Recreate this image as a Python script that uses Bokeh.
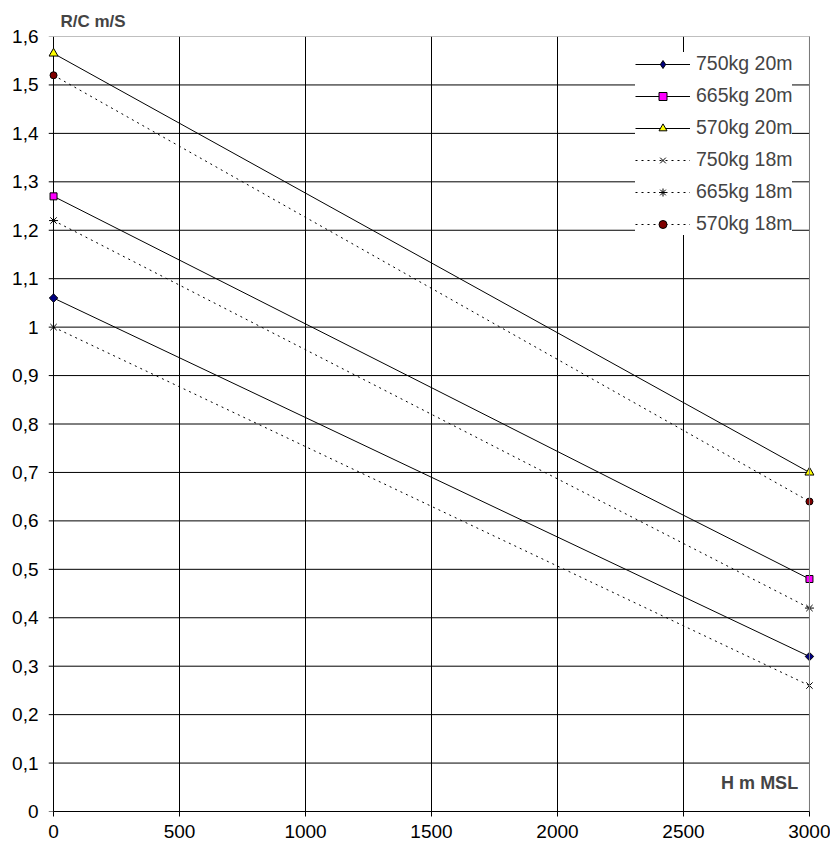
import math
from bokeh.plotting import figure
from bokeh.models import FixedTicker, Label, Range1d, Legend, Span
from bokeh.embed import file_html
from bokeh.resources import INLINE

altitude = [0, 3000]
s750_20 = [1.06, 0.32]
s665_20 = [1.27, 0.48]
s570_20 = [1.565, 0.70]
s750_18 = [1.00, 0.26]
s665_18 = [1.22, 0.42]
s570_18 = [1.52, 0.64]

x_ticks = [0, 500, 1000, 1500, 2000, 2500, 3000]
y_ticks = [0, 0.1, 0.2, 0.3, 0.4, 0.5, 0.6, 0.7, 0.8, 0.9, 1.0, 1.1, 1.2, 1.3, 1.4, 1.5, 1.6]
y_tick_labels = ["0", "0,1", "0,2", "0,3", "0,4", "0,5", "0,6", "0,7", "0,8", "0,9",
                 "1", "1,1", "1,2", "1,3", "1,4", "1,5", "1,6"]

FONT = "Liberation Sans"
x_min, x_max = x_ticks[0], x_ticks[-1]
y_min, y_max = y_ticks[0], y_ticks[-1]
pad = 20  # room so the end markers are not clipped by the frame

p = figure(frame_width=766, frame_height=775, output_backend="svg", toolbar_location=None,
           x_range=Range1d(x_min - pad, x_max + pad), y_range=Range1d(y_min, y_max),
           min_border_left=48, min_border_right=16, min_border_bottom=35, min_border_top=36,
           title="R/C m/S")
p.title.text_font = FONT
p.title.text_font_size = "17px"
p.title.text_font_style = "bold"
p.title.align = "left"
p.title.offset = 12
p.title.standoff = 11

p.outline_line_color = None
p.background_fill_color = "white"

# axes
p.xaxis.ticker = FixedTicker(ticks=x_ticks)
p.yaxis.ticker = FixedTicker(ticks=y_ticks)
p.yaxis.major_label_overrides = {t: l for t, l in zip(y_ticks, y_tick_labels)}
for ax in (p.xaxis, p.yaxis):
    ax.major_label_text_font = FONT
    ax.major_label_text_font_size = "19px"
    ax.major_label_text_color = "black"
    ax.minor_tick_line_color = None
p.xaxis.axis_line_color = "black"
p.xaxis.major_tick_line_color = "black"
p.xaxis.major_tick_in = 0
p.xaxis.major_tick_out = 5
p.xaxis.major_label_standoff = 8
p.xaxis.bounds = (x_min, x_max)
p.yaxis.axis_line_color = None
p.yaxis.major_tick_line_color = None
p.yaxis.major_tick_in = 0
p.yaxis.major_tick_out = 0
p.yaxis.major_label_standoff = 10

# grid: vertical lines from the built-in grid, horizontal lines limited to 0..3000
p.xgrid.ticker = FixedTicker(ticks=x_ticks)
p.xgrid.grid_line_color = "black"
p.ygrid.grid_line_color = None
h_colors = ["black"] * (len(y_ticks) - 1) + ["#808080"]
p.segment(x0=[x_min - pad] * len(y_ticks), y0=y_ticks,
          x1=[x_max] * len(y_ticks), y1=y_ticks, line_color=h_colors, line_width=1)
p.add_layout(Span(location=x_max, dimension="height", line_color="#808080", line_width=1))

items = []
def series(vals, label, dash, marker, fill, size, angle=0.0, legend_marker=None, legend_size=None):
    r1 = p.line(altitude, vals, line_color="black", line_width=1, line_dash=dash)
    r2 = p.scatter(altitude, vals, marker=marker, size=size, fill_color=fill,
                   line_color="black", line_width=1, angle=angle)
    if legend_marker is not None:
        # legend swatch only: a single undrawn (NaN) point
        r2 = p.scatter([math.nan], [math.nan], marker=legend_marker, size=legend_size,
                       fill_color=fill, line_color="black", line_width=1)
    items.append((label, [r1, r2]))

series(s750_20, "750kg 20m", "solid", "square", "#000080", 6, angle=math.pi / 4,
       legend_marker="diamond", legend_size=10)
series(s665_20, "665kg 20m", "solid", "square", "#FF00FF", 7)
series(s570_20, "570kg 20m", "solid", "triangle", "#FFFF00", 9)
series(s750_18, "750kg 18m", "2 4", "x", "black", 9)
series(s665_18, "665kg 18m", "2 4", "asterisk", "black", 9)
series(s570_18, "570kg 18m", "2 4", "circle", "#800000", 7)

legend = Legend(items=items, location=(587, 576))
legend.label_text_font = FONT
legend.label_text_font_size = "19.5px"
legend.glyph_width = 55
legend.glyph_height = 20
legend.label_height = 20
legend.label_standoff = 6
legend.spacing = 9
legend.padding = 8
legend.margin = 0
legend.border_line_color = None
legend.background_fill_color = "white"
legend.background_fill_alpha = 1
p.add_layout(legend, "center")

p.add_layout(Label(x=2955, y=0.058, text="H m MSL", text_align="right", text_baseline="middle",
                   text_font=FONT, text_font_size="18px", text_font_style="bold"))

open("out.html", "w").write(file_html(p, INLINE))
